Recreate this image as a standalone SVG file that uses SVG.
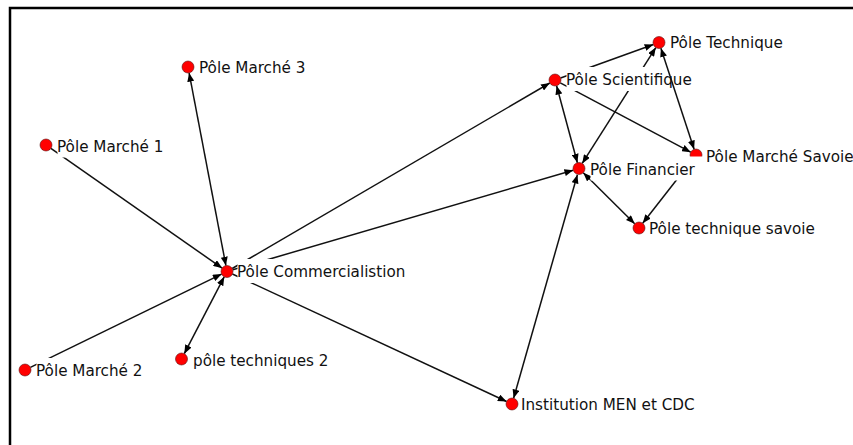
<svg xmlns="http://www.w3.org/2000/svg" width="853" height="445" viewBox="0 0 853 445">
<style>
.edge{stroke:#111;stroke-width:1.5;fill:none}
.nd{fill:#ff0000;stroke:#5a1010;stroke-width:0.6}
.bg{fill:#ffffff;stroke:none}
.lb{font-family:"DejaVu Sans","Verdana",sans-serif;font-size:15.2px;fill:#111}
</style>
<defs>
<marker id="ah" viewBox="0 0 10 8" refX="10" refY="4" markerWidth="9" markerHeight="7" markerUnits="userSpaceOnUse" orient="auto-start-reverse">
<path d="M0,0 L10,4 L0,8 z" fill="#000"/>
</marker>
</defs>
<rect x="0" y="0" width="853" height="445" fill="#ffffff"/>
<g id="connectors">
<line class="edge" x1="50.9" y1="148.4" x2="222.1" y2="268.1" marker-end="url(#ah)"/>
<line class="edge" x1="189.1" y1="72.9" x2="225.9" y2="265.6" marker-start="url(#ah)" marker-end="url(#ah)"/>
<line class="edge" x1="30.4" y1="367.4" x2="221.6" y2="274.1" marker-end="url(#ah)"/>
<line class="edge" x1="184.3" y1="353.7" x2="224.2" y2="276.8" marker-start="url(#ah)" marker-end="url(#ah)"/>
<line class="edge" x1="232.2" y1="268.5" x2="549.8" y2="83.0" marker-end="url(#ah)"/>
<line class="edge" x1="232.8" y1="269.8" x2="573.2" y2="170.2" marker-end="url(#ah)"/>
<line class="edge" x1="232.4" y1="274.0" x2="506.6" y2="401.5" marker-end="url(#ah)"/>
<line class="edge" x1="513.6" y1="398.2" x2="577.4" y2="174.7" marker-start="url(#ah)" marker-end="url(#ah)"/>
<line class="edge" x1="556.6" y1="85.8" x2="577.4" y2="162.7" marker-start="url(#ah)" marker-end="url(#ah)"/>
<line class="edge" x1="560.6" y1="78.0" x2="653.4" y2="44.5" marker-end="url(#ah)"/>
<line class="edge" x1="582.2" y1="163.4" x2="655.8" y2="47.6" marker-start="url(#ah)" marker-end="url(#ah)"/>
<line class="edge" x1="560.3" y1="82.8" x2="690.7" y2="152.2" marker-end="url(#ah)"/>
<line class="edge" x1="583.3" y1="172.7" x2="634.7" y2="223.8" marker-start="url(#ah)" marker-end="url(#ah)"/>
<line class="edge" x1="692.3" y1="159.7" x2="642.7" y2="223.3" marker-end="url(#ah)"/>
</g>
<g id="n-marche3">
<circle class="nd" cx="188" cy="67" r="6"/>
<rect class="bg" x="199.5" y="55" width="109" height="24"/>
<text class="lb" x="199" y="73">Pôle Marché 3</text>
</g>
<g id="n-marche1">
<circle class="nd" cx="46" cy="145" r="6"/>
<rect class="bg" x="57.5" y="133.5" width="109" height="24"/>
<text class="lb" x="57" y="151.5">Pôle Marché 1</text>
</g>
<g id="n-commercialistion">
<circle class="nd" cx="227" cy="271.5" r="6"/>
<rect class="bg" x="237.5" y="259" width="171" height="24"/>
<text class="lb" x="237" y="277">Pôle Commercialistion</text>
</g>
<g id="n-techniques2">
<circle class="nd" cx="181.5" cy="359" r="6"/>
<rect class="bg" x="193.5" y="347.5" width="137" height="24"/>
<text class="lb" x="193" y="365.5">pôle techniques 2</text>
</g>
<g id="n-marche2">
<circle class="nd" cx="25" cy="370" r="6"/>
<rect class="bg" x="36.5" y="358" width="109" height="24"/>
<text class="lb" x="36" y="376">Pôle Marché 2</text>
</g>
<g id="n-institution">
<circle class="nd" cx="512" cy="404" r="6"/>
<rect class="bg" x="521.5" y="392" width="175" height="24"/>
<text class="lb" x="521" y="410">Institution MEN et CDC</text>
</g>
<g id="n-marchesavoie">
<circle class="nd" cx="696" cy="155" r="6"/>
<rect class="bg" x="706.5" y="143.5" width="150" height="24"/>
<text class="lb" x="706" y="161.5">Pôle Marché Savoie</text>
</g>
<g id="n-techniquesavoie">
<circle class="nd" cx="639" cy="228" r="6"/>
<rect class="bg" x="650" y="215.5" width="170" height="24"/>
<text class="lb" x="649" y="233.5">Pôle technique savoie</text>
</g>
<g id="n-technique">
<circle class="nd" cx="659" cy="42.5" r="6"/>
<rect class="bg" x="670.5" y="29.5" width="118" height="24"/>
<text class="lb" x="670" y="47.5">Pôle Technique</text>
</g>
<g id="n-scientifique">
<circle class="nd" cx="555" cy="80" r="6"/>
<rect class="bg" x="566.5" y="67" width="128" height="24"/>
<text class="lb" x="566" y="85">Pôle Scientifique</text>
</g>
<g id="n-financier">
<circle class="nd" cx="579" cy="168.5" r="6"/>
<rect class="bg" x="590.5" y="156.5" width="112" height="24"/>
<text class="lb" x="590" y="174.5">Pôle Financier</text>
</g>
<g id="connectors-top">
<line class="edge" x1="660.9" y1="48.2" x2="694.1" y2="149.3" marker-start="url(#ah)" marker-end="url(#ah)"/>
</g>
<rect x="10" y="8" width="850" height="450" fill="none" stroke="#000" stroke-width="2.5"/>
</svg>
